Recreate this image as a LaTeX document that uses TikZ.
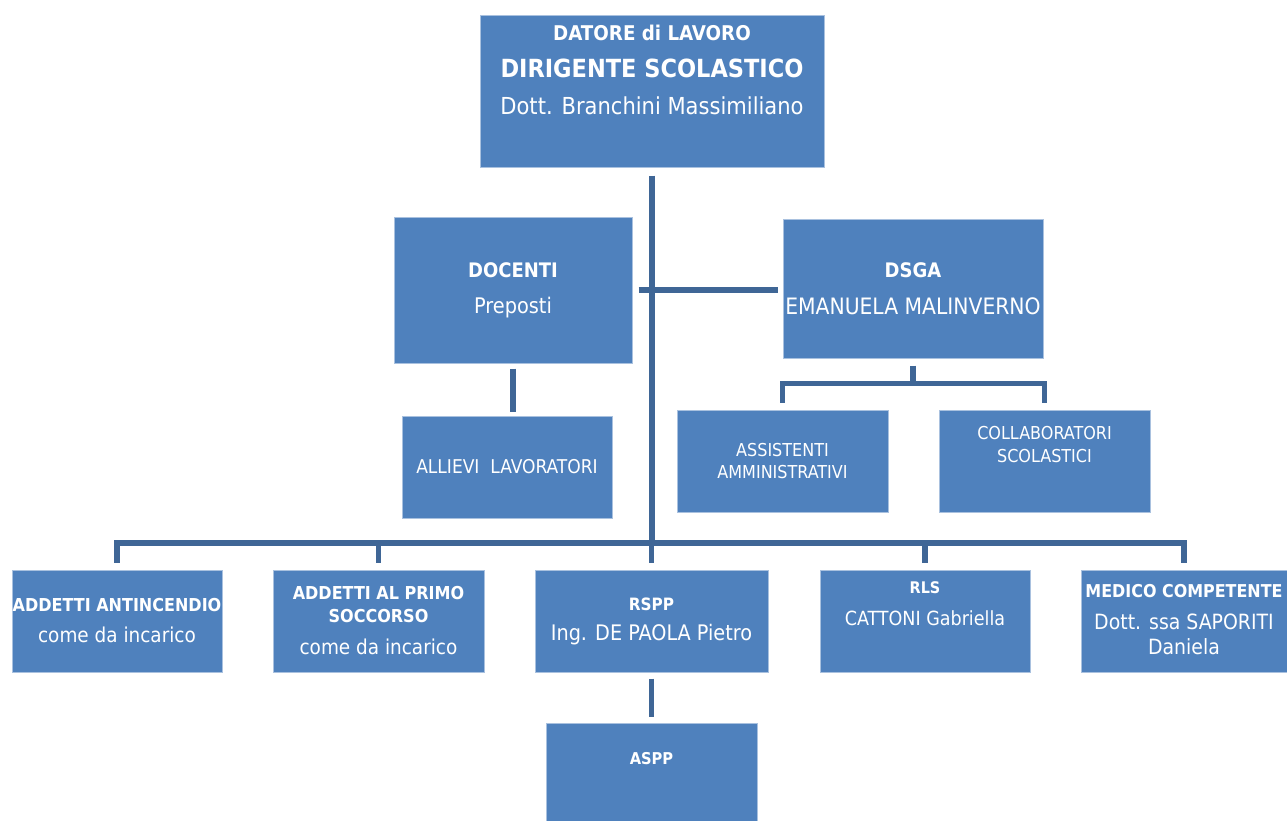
\documentclass[tikz,border=0pt]{standalone}
\usepackage{fontspec}
\setmainfont{DejaVu Sans Condensed}
\definecolor{boxblue}{HTML}{4F81BD}
\definecolor{linkblue}{HTML}{3F6696}
\definecolor{rimblue}{HTML}{A9C1DF}
\newcommand\fs[2]{\fontsize{#1}{#2}\selectfont}
\tikzset{every picture/.style={line width=0.75pt}}
\tikzset{
  orgbox/.style={draw=rimblue, line width=1pt, fill=boxblue, inner sep=0pt},
  orgtext/.style={text=white, align=center, inner sep=0pt},
  orglink/.style={draw=linkblue, line width=5.5pt},
}

\begin{document}
\begin{tikzpicture}[x=1pt,y=1pt,yscale=-1,xscale=1]
  \useasboundingbox (0,0) rectangle (1287,820);

  % boxes
  \node[orgbox, minimum width=344, minimum height=152] (dl) at (652,91) {};
  \node[orgbox, minimum width=238, minimum height=146] (doc) at (513,290) {};
  \node[orgbox, minimum width=260, minimum height=139] (dsga) at (913,288.5) {};
  \node[orgbox, minimum width=210, minimum height=102] (all) at (507,467) {};
  \node[orgbox, minimum width=211, minimum height=102] (ass) at (782.5,461) {};
  \node[orgbox, minimum width=211, minimum height=102] (col) at (1044.5,461) {};
  \node[orgbox, minimum width=210, minimum height=102] (ant) at (117,621) {};
  \node[orgbox, minimum width=211, minimum height=102] (pso) at (378.5,621) {};
  \node[orgbox, minimum width=233, minimum height=102] (rspp) at (651.5,621) {};
  \node[orgbox, minimum width=210, minimum height=102] (rls) at (925,621) {};
  \node[orgbox, minimum width=206, minimum height=102] (med) at (1184,621) {};
  \node[orgbox, minimum width=211, minimum height=100] (aspp) at (651.5,773) {};

  % texts
  \node[orgtext, font=\fs{20.3}{37}] (dl-t) at ([yshift=-21pt]dl.center)
    {\bfseries DATORE di LAVORO\\\fs{25}{37}\bfseries DIRIGENTE SCOLASTICO\\\fs{23.4}{37}Dott. Branchini Massimiliano};
  \node[orgtext, font=\fs{20}{36}] (doc-t) at (doc.center)
    {\bfseries DOCENTI\\\fs{21.5}{36}Preposti};
  \node[orgtext, font=\fs{20}{37}] (dsga-t) at (dsga.center)
    {\bfseries DSGA\\\fs{22.6}{37}EMANUELA MALINVERNO};
  \node[orgtext, font=\fs{19}{22}] (all-t) at (all.center) {ALLIEVI\ \ LAVORATORI};
  \node[orgtext, font=\fs{17.8}{22}] (ass-t) at (ass.center) {ASSISTENTI\\AMMINISTRATIVI};
  \node[orgtext, font=\fs{17.8}{23}] (col-t) at ([yshift=-16.5pt]col.center) {COLLABORATORI\\SCOLASTICI};
  \node[orgtext, font=\fs{17.8}{31}] (ant-t) at (ant.center)
    {\bfseries ADDETTI ANTINCENDIO\\\fs{20.5}{31}come da incarico};
  \node[orgtext, font=\fs{17.8}{23}] (pso-t) at (pso.center)
    {\bfseries ADDETTI AL PRIMO\\\bfseries SOCCORSO\\[9pt]\fs{20.5}{23}come da incarico};
  \node[orgtext, font=\fs{17}{30}] (rspp-t) at (rspp.center)
    {\bfseries RSPP\\\fs{21.4}{30}Ing. DE PAOLA Pietro};
  \node[orgtext, font=\fs{16}{32}] (rls-t) at ([yshift=-17pt]rls.center)
    {\bfseries RLS\\\fs{19.5}{32}CATTONI Gabriella};
  \node[orgtext, font=\fs{17.7}{25}] (med-t) at ([yshift=-1.5pt]med.center)
    {\bfseries MEDICO COMPETENTE\\[7pt]\fs{21}{25}Dott. ssa SAPORITI\\\fs{21}{25}Daniela};
  \node[orgtext, font=\fs{16.3}{22}] (aspp-t) at ([yshift=-14pt]aspp.center) {\bfseries ASPP};

  % connectors
  \coordinate (bar) at (652,543);
  \coordinate (dbar) at ([yshift=25pt]dsga.south);
  \draw[orglink] ([yshift=8pt]dl.south) -- (bar);
  \draw[orglink] ([xshift=6pt]doc.east) -- ([xshift=-5pt]doc.east -| dsga.west);
  \draw[orglink] ([yshift=5pt]doc.south) -- ([yshift=-4pt]doc.south |- all.north);
  \draw[orglink] ([yshift=7pt]dsga.south) -- (dbar);
  \draw[orglink] ([yshift=-7pt]ass.north) |- (dbar) -| ([yshift=-7pt]col.north);
  \draw[orglink] ([yshift=-7pt]ant.north) |- (bar) -| ([yshift=-7pt]med.north);
  \foreach \n in {pso,rspp,rls}
    \draw[orglink] ([yshift=-7pt]\n.north) -- (\n.north |- bar);
  \draw[orglink] ([yshift=6pt]rspp.south) -- ([yshift=-6pt]aspp.north);

\end{tikzpicture}
\end{document}
